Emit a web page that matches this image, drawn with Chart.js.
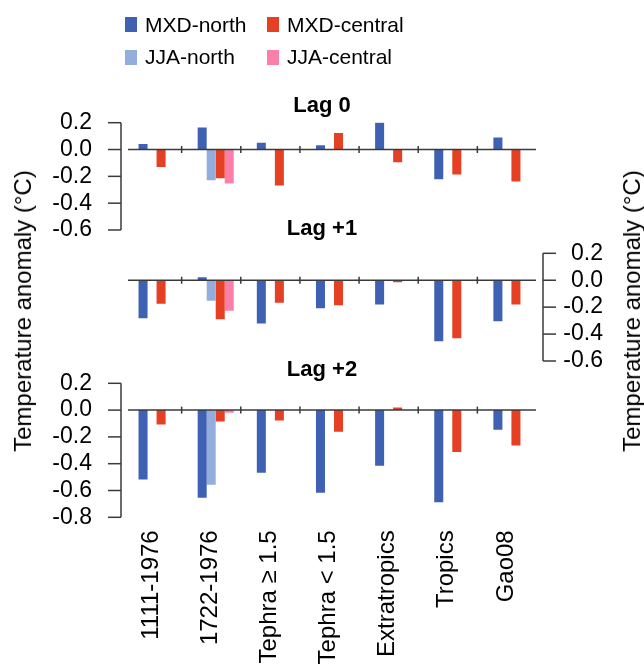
<!DOCTYPE html>
<html>
<head>
<meta charset="utf-8">
<script src="https://cdn.jsdelivr.net/npm/chart.js@4.4.1/dist/chart.umd.min.js"></script>
<style>
  body { margin: 0; background: #fff; }
  #wrap { position: relative; width: 644px; height: 668px; font-family: 'Liberation Sans', Arial, sans-serif; color: #000; }
  #wrap canvas { position: absolute; left: 0; top: 0; }
  .sw { position: absolute; width: 12px; height: 15px; }
  .lt { position: absolute; font-size: 21px; line-height: 24px; white-space: nowrap; }
  .ytitle { position: absolute; font-size: 24px; line-height: 28px; white-space: nowrap; transform: translate(-50%, -50%) rotate(-90deg); }
</style>
</head>
<body>
<div id="wrap">
  <canvas id="lag0" width="644" height="668"></canvas>
  <canvas id="lag1" width="644" height="668"></canvas>
  <canvas id="lag2" width="644" height="668"></canvas>

  <div class="sw" style="left:125px; top:17px; background:#3f61b3"></div>
  <div class="lt" style="left:145px; top:12.5px">MXD-north</div>
  <div class="sw" style="left:267px; top:17px; background:#e53f24"></div>
  <div class="lt" style="left:287px; top:12.5px">MXD-central</div>
  <div class="sw" style="left:125px; top:50px; background:#93addd"></div>
  <div class="lt" style="left:145px; top:45px">JJA-north</div>
  <div class="sw" style="left:267px; top:50px; background:#fa80ab"></div>
  <div class="lt" style="left:287px; top:45px">JJA-central</div>

  <div class="ytitle" style="left:22.5px; top:311px">Temperature anomaly (°C)</div>
  <div class="ytitle" style="left:632px; top:311px">Temperature anomaly (°C)</div>
</div>

<script>
// groups along the x axis
const categories = ["1111-1976", "1722-1976", "Tephra \u2265 1.5", "Tephra < 1.5",
                    "Extratropics", "Tropics", "Gao08"];

// bar order inside each group
const seriesNames = ["MXD-north", "JJA-north", "MXD-central", "JJA-central"];
const seriesColors = ["#3f61b3", "#93addd", "#e53f24", "#fa80ab"];

// Lag 0
const lag0MxdNorth   = [0.042, 0.164, 0.05, 0.032, 0.204, -0.221, 0.09];
const lag0JjaNorth   = [null, -0.229, null, null, null, null, null];
const lag0MxdCentral = [-0.13, -0.214, -0.269, 0.124, -0.094, -0.187, -0.239];
const lag0JjaCentral = [null, -0.254, null, null, null, null, null];

// Lag +1
const lag1MxdNorth   = [-0.283, 0.022, -0.322, -0.209, -0.18, -0.453, -0.305];
const lag1JjaNorth   = [null, -0.153, null, null, null, null, null];
const lag1MxdCentral = [-0.175, -0.29, -0.167, -0.185, -0.015, -0.431, -0.18];
const lag1JjaCentral = [null, -0.226, null, null, null, null, null];

// Lag +2
const lag2MxdNorth   = [-0.517, -0.654, -0.468, -0.617, -0.415, -0.687, -0.147];
const lag2JjaNorth   = [null, -0.557, null, null, null, null, null];
const lag2MxdCentral = [-0.107, -0.085, -0.077, -0.162, 0.02, -0.313, -0.264];
const lag2JjaCentral = [null, -0.02, null, null, null, null, null];

// y ranges
const yMax = 0.2;
const yStep = 0.2;
const lag0YMin = -0.6;
const lag1YMin = -0.6;
const lag2YMin = -0.8;

Chart.defaults.font.family = "'Liberation Sans', Arial, sans-serif";
Chart.defaults.color = "#000";

// zero line, group separators, bracket y axis and panel title
const panelAxes = {
    id: "panelAxes",
    afterDatasetsDraw(chart, args, opts) {
        const ctx = chart.ctx;
        const a = chart.chartArea;
        const x = chart.scales.x;
        const y = chart.scales.y;
        const y0 = y.getPixelForValue(0);

        ctx.save();
        ctx.strokeStyle = "#3a3a3a";
        ctx.lineWidth = 1.5;

        ctx.beginPath();
        ctx.moveTo(a.left + 1, y0);
        ctx.lineTo(a.right - 5, y0);
        ctx.stroke();

        for (let i = 1; i < categories.length; i++) {
            let sx = (x.getPixelForValue(i - 1) + x.getPixelForValue(i)) / 2 - 4.5;
            ctx.beginPath();
            ctx.moveTo(sx, y0 - 3.5);
            ctx.lineTo(sx, y0 + 3.5);
            ctx.stroke();
        }

        let ax = opts.side === "right" ? a.right + 2 : a.left - 6;
        let dir = opts.side === "right" ? 1 : -1;
        ctx.beginPath();
        ctx.moveTo(ax, a.top);
        ctx.lineTo(ax, a.bottom);
        ctx.stroke();
        y.ticks.forEach(t => {
            let ty = y.getPixelForValue(t.value);
            ctx.beginPath();
            ctx.moveTo(ax, ty);
            ctx.lineTo(ax + dir * 13, ty);
            ctx.stroke();
        });

        ctx.fillStyle = "#000";
        ctx.font = "bold 22px 'Liberation Sans', Arial, sans-serif";
        ctx.textAlign = "center";
        ctx.textBaseline = "middle";
        ctx.fillText(opts.title, chart.width / 2, opts.titleY);
        ctx.restore();
    }
};

function makeDatasets(mxdNorth, jjaNorth, mxdCentral, jjaCentral) {
    return [mxdNorth, jjaNorth, mxdCentral, jjaCentral].map((d, i) => ({
        label: seriesNames[i],
        data: d,
        backgroundColor: seriesColors[i],
        borderWidth: 0,
        barPercentage: 1,
        categoryPercentage: 0.61
    }));
}

function makePanel(id, title, titleY, datasets, yMin, side, padding, withLabels) {
    let scales = {
        x: { display: false, offset: true },
        y: {
            position: side,
            min: yMin,
            max: yMax,
            grid: { display: false },
            border: { display: false },
            ticks: {
                stepSize: yStep,
                autoSkip: false,
                padding: side === "right" ? 0 : 27,
                crossAlign: side === "right" ? "far" : "near",
                font: { size: 23 },
                color: "#000",
                callback: v => Math.abs(v) < 1e-9 ? "0.0" : v.toFixed(1)
            },
            afterFit: s => { s.width = side === "right" ? 62 : 127; }
        }
    };
    if (withLabels) {
        scales.x2 = {
            type: "category",
            position: "bottom",
            offset: true,
            grid: { display: false },
            border: { display: false },
            ticks: {
                autoSkip: false,
                minRotation: 90,
                maxRotation: 90,
                padding: 5,
                labelOffset: -5.5,
                font: { size: 24 },
                color: "#000"
            },
            afterFit: s => { s.height = 150.7; }
        };
    }

    return new Chart(document.getElementById(id), {
        type: "bar",
        data: { labels: categories, datasets: datasets },
        options: {
            responsive: false,
            animation: false,
            layout: { padding: padding },
            scales: scales,
            plugins: {
                legend: { display: false },
                tooltip: { enabled: false },
                panelAxes: { side: side, title: title, titleY: titleY }
            }
        },
        plugins: [panelAxes]
    });
}

makePanel("lag0", "Lag 0", 106,
    makeDatasets(lag0MxdNorth, lag0JjaNorth, lag0MxdCentral, lag0JjaCentral),
    lag0YMin, "left", { top: 122.7, bottom: 438, left: 0, right: 103 }, false);

makePanel("lag1", "Lag +1", 229,
    makeDatasets(lag1MxdNorth, lag1JjaNorth, lag1MxdCentral, lag1JjaCentral),
    lag1YMin, "right", { top: 253.3, bottom: 307, left: 127, right: 41 }, false);

makePanel("lag2", "Lag +2", 370,
    makeDatasets(lag2MxdNorth, lag2JjaNorth, lag2MxdCentral, lag2JjaCentral),
    lag2YMin, "left", { top: 383.3, bottom: 0, left: 0, right: 103 }, true);
</script>
</body>
</html>
